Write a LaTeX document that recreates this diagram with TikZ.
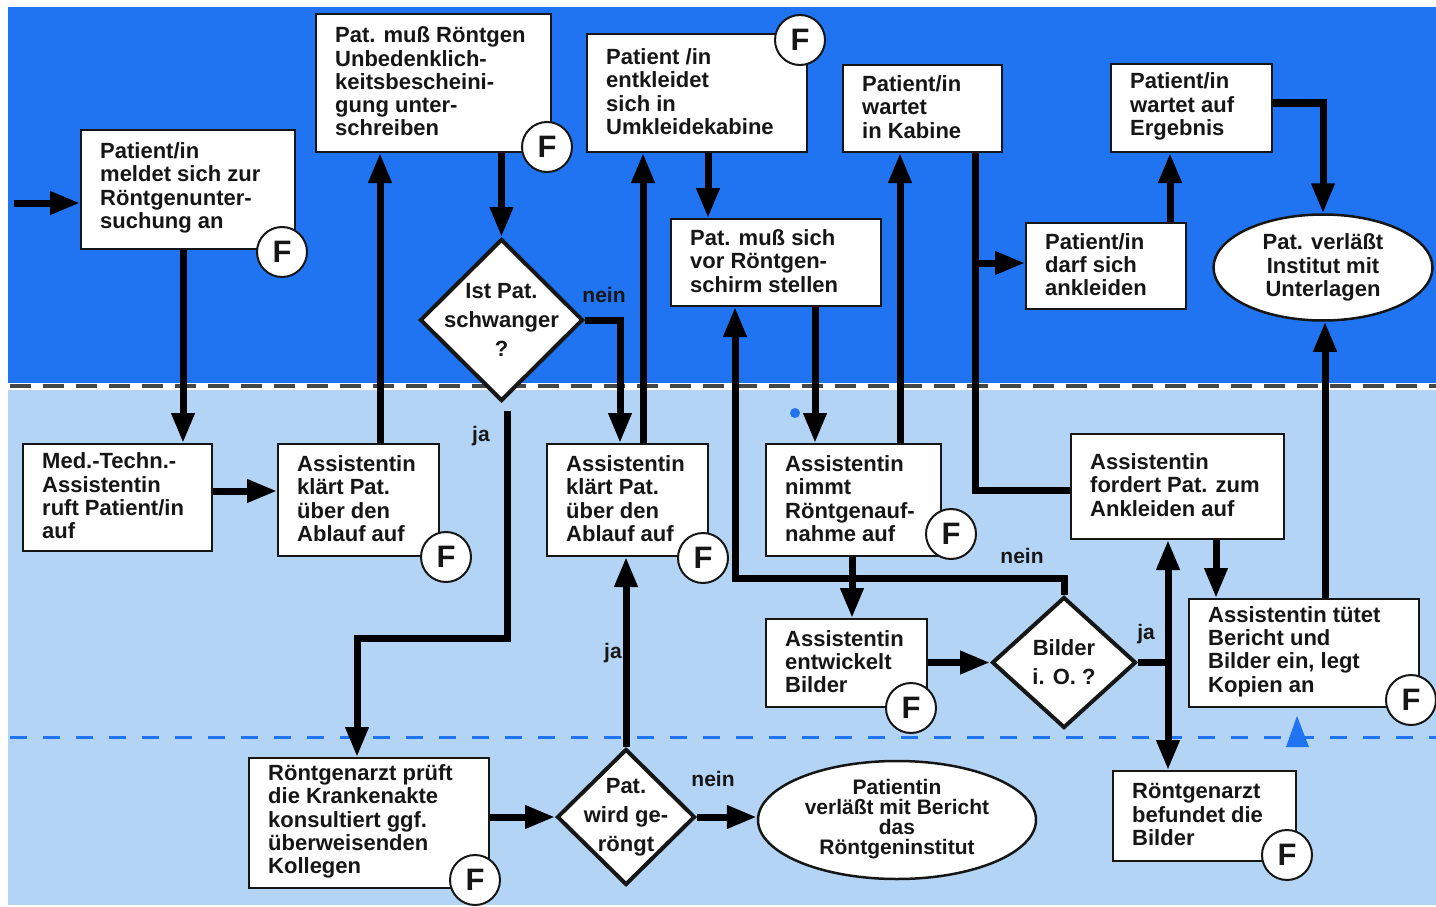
\documentclass[tikz,border=0pt]{standalone}
\usepackage{fontspec}
\setmainfont{Liberation Sans}
\usetikzlibrary{arrows.meta,shapes.geometric}

\definecolor{topblue}{RGB}{32,116,242}
\definecolor{lowblue}{RGB}{180,212,246}
\definecolor{dashgray}{RGB}{70,70,70}
\definecolor{ink}{RGB}{22,22,22}

% rectangular step: name, centre x, centre y, width, height, text
\newcommand\flowbox[6]{%
  \node[fbx, minimum width=#4, minimum height=#5] (#1) at (#2,#3) {};
  \node[boxtext, anchor=west] (#1-t) at ([xshift=20pt,yshift=1.5pt]#1.west) {#6};}

\tikzset{
  fbx/.style={rectangle, draw=ink, line width=2pt, fill=white, inner sep=0pt},
  boxtext/.style={inner sep=0pt, align=left, text=ink,
    font=\fontsize{22}{23.3}\selectfont\bfseries},
  dia/.style={diamond, draw=ink, line width=4pt, fill=white, inner sep=0pt},
  diatext/.style={inner sep=0pt, align=center, text=ink,
    font=\fontsize{22}{29}\selectfont\bfseries},
  oval/.style={ellipse, draw=ink, line width=2.5pt, fill=white, inner sep=0pt},
  fmark/.style={circle, draw=ink, line width=2pt, fill=white, minimum size=50pt,
    inner sep=0pt, text=ink, font=\fontsize{31}{31}\selectfont\bfseries},
  conn/.style={line width=7pt, draw=black},
  arr/.style={conn, -{Triangle[length=30pt,width=22pt]}},
  lbl/.style={inner sep=0pt, text=ink, font=\fontsize{21}{21}\selectfont\bfseries},
}

\begin{document}
\begin{tikzpicture}[x=1pt, y=-1pt]
\useasboundingbox (0,0) rectangle (1436,907);

% two bands
\fill[white] (0,0) rectangle (1436,907);
\fill[topblue] (8,7) rectangle (1436,385);
\fill[lowblue] (8,385) rectangle (1436,905);
\draw[white, line width=7pt] (8,386) -- (1436,386);
\draw[dashgray, line width=3.5pt, dash pattern=on 21pt off 12pt] (10,386) -- (1436,386);
\draw[topblue, line width=3pt, dash pattern=on 17pt off 16pt] (10,737) -- (1436,737);

% steps in the upper band
\flowbox{b1}{188}{189.5}{214}{119}{Patient/in\\meldet sich zur\\Röntgenunter-\\suchung an}
\flowbox{b2}{433.5}{83}{235}{138}{Pat. muß Röntgen\\Unbedenklich-\\keitsbescheini-\\gung unter-\\schreiben}
\flowbox{b3}{697}{93}{220}{118}{Patient /in\\entkleidet\\sich in\\Umkleidekabine}
\flowbox{b4}{776}{262.5}{210}{87}{Pat. muß sich\\vor Röntgen-\\schirm stellen}
\flowbox{b5}{922.5}{108.5}{159}{87}{Patient/in\\wartet\\in Kabine}
\flowbox{b6}{1106}{266}{160}{86}{Patient/in\\darf sich\\ankleiden}
\flowbox{b7}{1191.5}{108}{161}{88}{Patient/in\\wartet auf\\Ergebnis}
\node[oval, minimum width=219, minimum height=106] (e2) at (1323,267.5) {};
\node[diatext, font=\fontsize{22}{23.5}\selectfont\bfseries] (e2-t) at (e2.center) {Pat. verläßt\\Institut mit\\Unterlagen};
\node[dia, minimum width=163, minimum height=162] (d1) at (501.5,320) {};
\node[diatext] (d1-t) at (d1.center) {Ist Pat.\\schwanger\\?};

% steps in the middle band
\flowbox{m}{117.5}{497.5}{189}{107}{Med.-Techn.-\\Assistentin\\ruft Patient/in\\auf}
\flowbox{a1}{358.5}{500}{161}{112}{Assistentin\\klärt Pat.\\über den\\Ablauf auf}
\flowbox{a2}{627.5}{500}{161}{112}{Assistentin\\klärt Pat.\\über den\\Ablauf auf}
\flowbox{a3}{853.5}{500}{175}{112}{Assistentin\\nimmt\\Röntgenauf-\\nahme auf}
\flowbox{a5}{1177.5}{486.5}{213}{105}{Assistentin\\fordert Pat. zum\\Ankleiden auf}
\flowbox{a4}{846.5}{663}{161}{88}{Assistentin\\entwickelt\\Bilder}
\flowbox{a6}{1304}{653}{230}{108}{Assistentin tütet\\Bericht und\\Bilder ein, legt\\Kopien an}
\node[dia, minimum width=144, minimum height=131] (d3) at (1064,662.5) {};
\node[diatext] (d3-t) at (d3.center) {Bilder\\i. O. ?};

% steps in the lower band
\flowbox{r1}{369}{823}{240}{130}{Röntgenarzt prüft\\die Krankenakte\\konsultiert ggf.\\überweisenden\\Kollegen}
\flowbox{r2}{1204.5}{816}{183}{90}{Röntgenarzt\\befundet die\\Bilder}
\node[dia, minimum width=138, minimum height=136] (d2) at (626,817) {};
\node[diatext] (d2-t) at (d2.center) {Pat.\\wird ge-\\röngt};
\node[oval, minimum width=278, minimum height=118] (e1) at (897,820) {};
\node[diatext, font=\fontsize{21}{19.8}\selectfont\bfseries] (e1-t) at ([yshift=1pt]e1.center) {Patientin\\verläßt mit Bericht\\das\\Röntgeninstitut};

% connectors
\coordinate (in) at (14,203);
\coordinate (k1) at (357,638);
\coordinate (j1) at (975,263);
\draw[arr] (in) -- (in -| b1.west);
\draw[arr] (b1.south -| 183,0) -- (m.north -| 183,0);
\draw[arr] (m.east |- 0,491) -- (a1.west |- 0,491);
\draw[arr] (a1.north -| 380,0) -- (b2.south -| 380,0);
\draw[arr] (b2.south -| d1.north) -- (d1.north);
\draw[arr] (d1.east) -| (a2.north -| 620,0);
\draw[arr] ([xshift=6pt,yshift=-8pt]d1.south) |- (k1) -- (k1 |- r1.north);
\draw[arr] (r1.east |- d2.west) -- (d2.west);
\draw[arr] (d2.north) -- (d2.north |- a2.south);
\draw[arr] (d2.east) -- (e1.west |- d2.east);
\draw[arr] (a2.north -| 643,0) -- (b3.south -| 643,0);
\draw[arr] (b3.south -| 708,0) -- (b4.north -| 708,0);
\draw[arr] (b4.south -| 815,0) -- (a3.north -| 815,0);
\draw[arr] (a3.north -| 900,0) -- (b5.south -| 900,0);
\draw[arr] (a3.south -| 852,0) -- (a4.north -| 852,0);
\draw[arr] (a4.east |- d3.west) -- (d3.west);
\draw[arr] (d3.north) -- (d3.north |- 0,578) -| (b4.south -| 735,0);
\draw[conn] (d3.east) -- (d3.east -| 1168,0);
\draw[arr] (d3.east -| 1168,0) -- (a5.south -| 1168,0);
\draw[arr] (d3.east -| 1168,0) -- (r2.north -| 1168,0);
\draw[conn] (b5.south -| 975,0) |- (a5.west |- 0,490);
\draw[arr] (j1) -- (j1 -| b6.west);
\draw[arr] (b6.north -| 1170,0) -- (b7.south -| 1170,0);
\draw[arr] (b7.east |- 0,103) -| (e2.north);
\draw[arr] (a5.south -| 1216,0) -- (a6.north -| 1216,0);
\draw[arr] (a6.north -| 1325,0) -- (e2.south -| 1325,0);

% branch labels
\node[lbl] (l1) at (604,295) {nein};
\node[lbl] (l2) at (481,436) {ja};
\node[lbl] (l3) at (613,653) {ja};
\node[lbl] (l4) at (713,779) {nein};
\node[lbl] (l5) at (1022,556) {nein};
\node[lbl] (l6) at (1146,634) {ja};

% F marks
\node[fmark] (b1-f) at (282,252) {F};
\node[fmark] (b2-f) at (547,147) {F};
\node[fmark] (b3-f) at (800,40) {F};
\node[fmark] (a1-f) at (446,557) {F};
\node[fmark] (a2-f) at (703,558) {F};
\node[fmark] (a3-f) at (951,534) {F};
\node[fmark] (a4-f) at (911,708) {F};
\node[fmark] (a6-f) at (1411,700) {F};
\node[fmark] (r1-f) at (475,880) {F};
\node[fmark] (r2-f) at (1287,855) {F};

% small blue marks
\fill[topblue] (795,413) circle (5);
\fill[topblue] (1286,747) -- (1297,716) -- (1309,747) -- cycle;
\end{tikzpicture}
\end{document}
